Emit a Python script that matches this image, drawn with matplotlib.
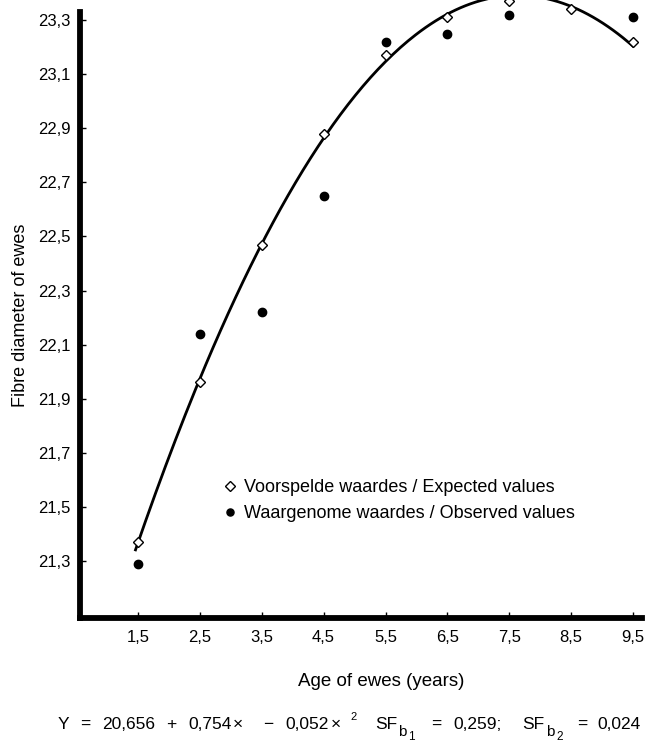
import matplotlib
matplotlib.use('Agg')
import matplotlib.pyplot as plt
import numpy as np

plt.rcParams['font.family'] = ['Liberation Sans', 'DejaVu Sans']

# age of ewes (years)
ages = [1.5, 2.5, 3.5, 4.5, 5.5, 6.5, 7.5, 8.5, 9.5]
# expected (predicted) fibre diameter
expected = [21.37, 21.96, 22.47, 22.88, 23.17, 23.31, 23.37, 23.34, 23.22]
# observed fibre diameter (no point visible at 8,5)
obs_ages = [1.5, 2.5, 3.5, 4.5, 5.5, 6.5, 7.5, 9.5]
observed = [21.29, 22.14, 22.22, 22.65, 23.22, 23.25, 23.32, 23.31]

xtick_labels = ['1,5', '2,5', '3,5', '4,5', '5,5', '6,5', '7,5', '8,5', '9,5']
yticks = [21.3, 21.5, 21.7, 21.9, 22.1, 22.3, 22.5, 22.7, 22.9, 23.1, 23.3]
ytick_labels = ['21,3', '21,5', '21,7', '21,9', '22,1', '22,3', '22,5', '22,7', '22,9', '23,1', '23,3']

W, H = 651, 744
fig = plt.figure(figsize=(W / 100, H / 100), dpi=100)
ax = fig.add_axes([80 / W, 1 - 618 / H, 562 / W, 606 / H])

# fitted quadratic through the expected values
coef = np.polyfit(ages, expected, 2)
xs = np.linspace(1.46, 9.5, 200)
ax.plot(xs, np.polyval(coef, xs), color='black', lw=2.0, clip_on=False, zorder=2)

ax.plot(ages, expected, linestyle='none', marker='D', markersize=5.5,
        markerfacecolor='white', markeredgecolor='black', markeredgewidth=1.0,
        clip_on=False, zorder=3, label='Voorspelde waardes / Expected values')
ax.plot(obs_ages, observed, linestyle='none', marker='o', markersize=6,
        color='black', clip_on=False, zorder=3,
        label='Waargenome waardes / Observed values')

ax.set_xlim(0.563, 9.645)
ax.set_ylim(21.089, 23.33)
ax.set_xticks(ages)
ax.set_xticklabels(xtick_labels)
ax.set_yticks(yticks)
ax.set_yticklabels(ytick_labels)

for side in ['top', 'right']:
    ax.spines[side].set_visible(False)
for side in ['left', 'bottom']:
    ax.spines[side].set_linewidth(4.2)
    ax.spines[side].set_capstyle('projecting')

ax.tick_params(direction='in', length=4, width=1, labelsize=12)
ax.tick_params(axis='y', pad=7)
ax.tick_params(axis='x', pad=9)

ax.set_ylabel('Fibre diameter of ewes', fontsize=13)
ax.yaxis.set_label_coords(-51 / 562, 0.5)

leg = ax.legend(loc='upper left', bbox_to_anchor=(0.254, 0.229), frameon=False,
                fontsize=13, handlelength=0.8, handletextpad=0.35,
                labelspacing=0.5, borderpad=0, borderaxespad=0,
                markerscale=0.85)

fig.text(381 / W, 1 - 681 / H, 'Age of ewes (years)', fontsize=13.5,
         ha='center', va='center')

# regression formula, laid out piece by piece (x in pixels, baseline in pixels)
base = 729
pieces = [('Y', 58), ('=', 80), ('20,656', 102), ('+', 166), ('0,754', 188),
          ('\u00d7', 233), ('\u2212', 263), ('0,052', 285), ('\u00d7', 331),
          ('SF', 375), ('=', 431), ('0,259;', 453),
          ('SF', 522), ('=', 577), ('0,024', 597)]
for s, px in pieces:
    fig.text(px / W, 1 - base / H, s, fontsize=12.5, ha='left', va='baseline')
fig.text(350 / W, 1 - 720 / H, '2', fontsize=8, ha='left', va='baseline')
for px, sub in [(398, '1'), (546, '2')]:
    fig.text(px / W, 1 - 736 / H, 'b', fontsize=11, ha='left', va='baseline')
    fig.text((px + 10) / W, 1 - 740 / H, sub, fontsize=8.5, ha='left', va='baseline')

fig.savefig('out.png', dpi=100)
